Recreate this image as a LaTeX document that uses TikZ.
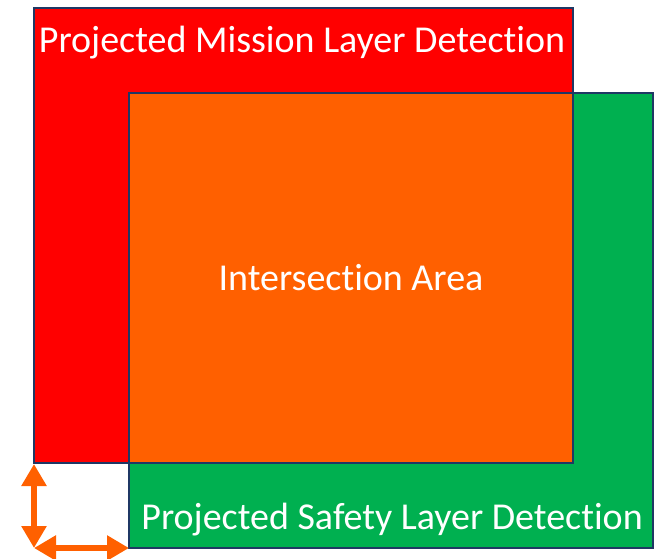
\documentclass[tikz,border=0pt]{standalone}
\usepackage{fontspec}
\setmainfont{Carlito}[Ligatures={NoCommon}]
\usetikzlibrary{arrows.meta}

\definecolor{missionred}{HTML}{FF0000}
\definecolor{safetygreen}{HTML}{00B050}
\definecolor{overlaporange}{HTML}{FF6000}
\definecolor{edgenavy}{HTML}{1F3864}

\tikzset{
  layerbox/.style={draw=edgenavy, line width=2.8pt},
  layerlabel/.style={text=white, font=\fontsize{38}{44}\selectfont, inner sep=0pt},
  offsetarrow/.style={draw=overlaporange, line width=5.5pt,
    {Triangle[length=22pt,width=24pt]}-{Triangle[length=22pt,width=24pt]}}
}

\begin{document}
\begin{tikzpicture}[x=1pt,y=-1pt]
\useasboundingbox (0,0) rectangle (654,558);
% layer boxes
\coordinate (mission nw) at (34,8);
\coordinate (mission se) at (573,463);
\coordinate (safety nw) at (129,93);
\coordinate (safety se) at (653,548);
\filldraw[layerbox, fill=missionred] (mission nw) rectangle (mission se);
\filldraw[layerbox, fill=safetygreen] (safety nw) rectangle (safety se);
\filldraw[layerbox, fill=overlaporange] (safety nw) rectangle (mission se);
% labels
\node[layerlabel] (mission) at (302,43) {Projected Mission Layer Detection};
\node[layerlabel] (overlap) at (351,278) {Intersection Area};
\node[layerlabel] (safety) at (392,520) {Projected Safety Layer Detection};
% offsets
\coordinate (corner) at (34,548);
\coordinate (mission sw) at (34,464);
\coordinate (safety sw) at (129,548);
\draw[offsetarrow] (mission sw) -- (corner);
\draw[offsetarrow] (corner) -- (safety sw);
\end{tikzpicture}
\end{document}
